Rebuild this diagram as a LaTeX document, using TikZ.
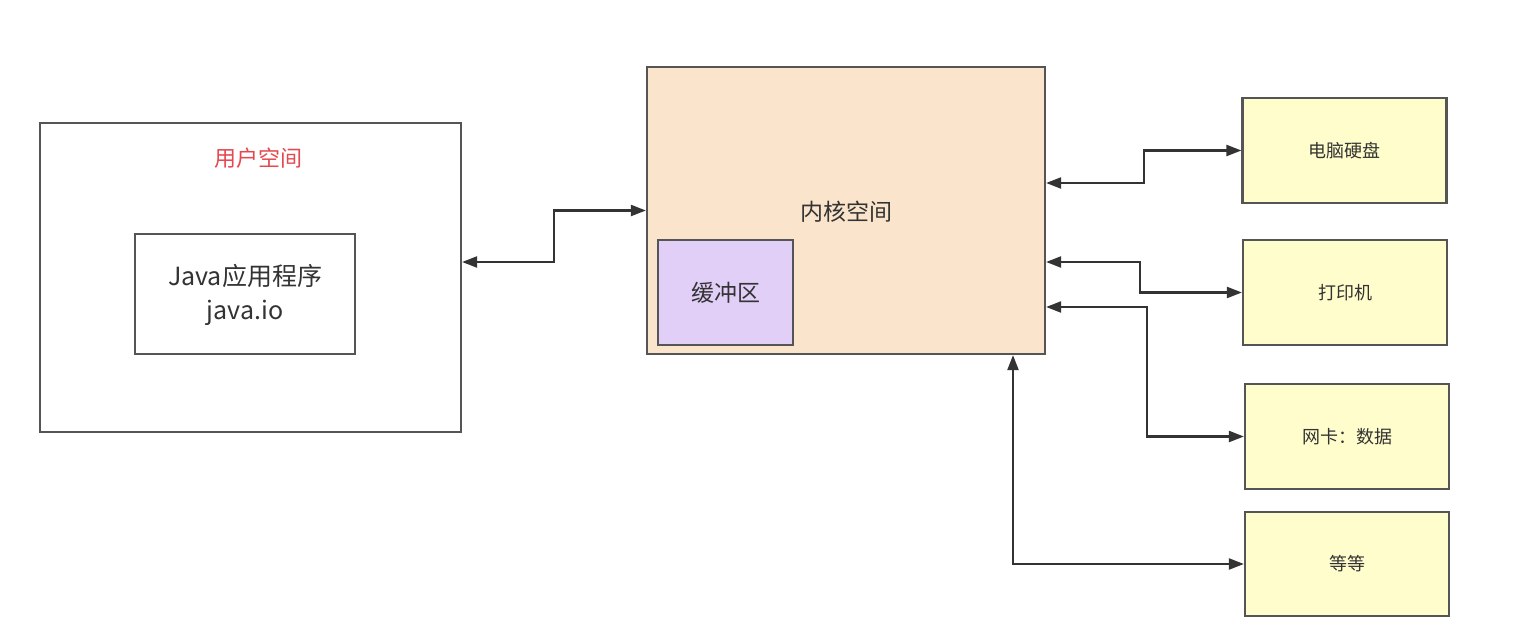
\documentclass[tikz,border=0pt]{standalone}
\usepackage{fontspec}
\setmainfont{Noto Sans CJK SC}
\usetikzlibrary{arrows.meta}
\definecolor{edge}{HTML}{555555}
\definecolor{wire}{HTML}{333333}
\definecolor{kernelfill}{HTML}{FAE5CC}
\definecolor{bufferfill}{HTML}{E1CFF7}
\definecolor{devfill}{HTML}{FFFDCC}
\definecolor{userred}{HTML}{E5484F}
\definecolor{txt}{HTML}{333333}
\newcommand{\fs}[1]{\fontsize{#1}{#1}\selectfont}
\tikzset{
  box/.style={draw=edge, line width=2.2pt, rectangle, inner sep=0pt, text=txt, align=center},
  devbox/.style={box, fill=devfill, minimum width=204pt, minimum height=105pt, font=\fs{18}},
  link/.style={draw=wire, line width=2.2pt, {Triangle[length=15pt,width=11pt]}-{Triangle[length=15pt,width=11pt]}}
}
\begin{document}
\begin{tikzpicture}[x=1pt,y=-1pt]
\useasboundingbox[fill=white] (0,0) rectangle (1532,636);

% user space
\node[box, minimum width=421pt, minimum height=309pt] (user) at (250.5,277.5) {};
\node[text=userred, font=\fs{22}] (usertitle) at (258,158) {用户空间};
\node[box, minimum width=220pt, minimum height=120pt] (java) at (245,294) {};
\node[text=txt, font=\fs{25}, align=center] (javatext) at (245,295) {Java应用程序\\[9pt]java.io};

% kernel space
\node[box, fill=kernelfill, minimum width=398pt, minimum height=287pt] (kernel) at (846,210.5) {};
\node[text=txt, font=\fs{23}] (kerneltitle) at (846,212) {内核空间};
\node[box, fill=bufferfill, minimum width=135pt, minimum height=105pt, font=\fs{23}] (buffer) at (725.5,292.5) {缓冲区};

% devices
\node[devbox] (disk) at (1344.5,150.5) {电脑硬盘};
\node[devbox] (printer) at (1345,292.5) {打印机};
\node[devbox] (nic) at (1347,436.5) {网卡：数据};
\node[devbox, minimum height=104pt] (etc) at (1347,564) {等等};

% connectors
\draw[link] ([yshift=15.5pt]user.east) -- ++(92,0) |- (kernel.west);
\draw[link] ([yshift=27.5pt]kernel.east) -- ++(98,0) |- (disk.west);
\draw[link] ([yshift=-51.5pt]kernel.east) -- ++(94,0) |- (printer.west);
\draw[link] ([yshift=-96.5pt]kernel.east) -- ++(101,0) |- (nic.west);
\draw[link] ([xshift=167pt]kernel.south) |- (etc.west);
\end{tikzpicture}
\end{document}
